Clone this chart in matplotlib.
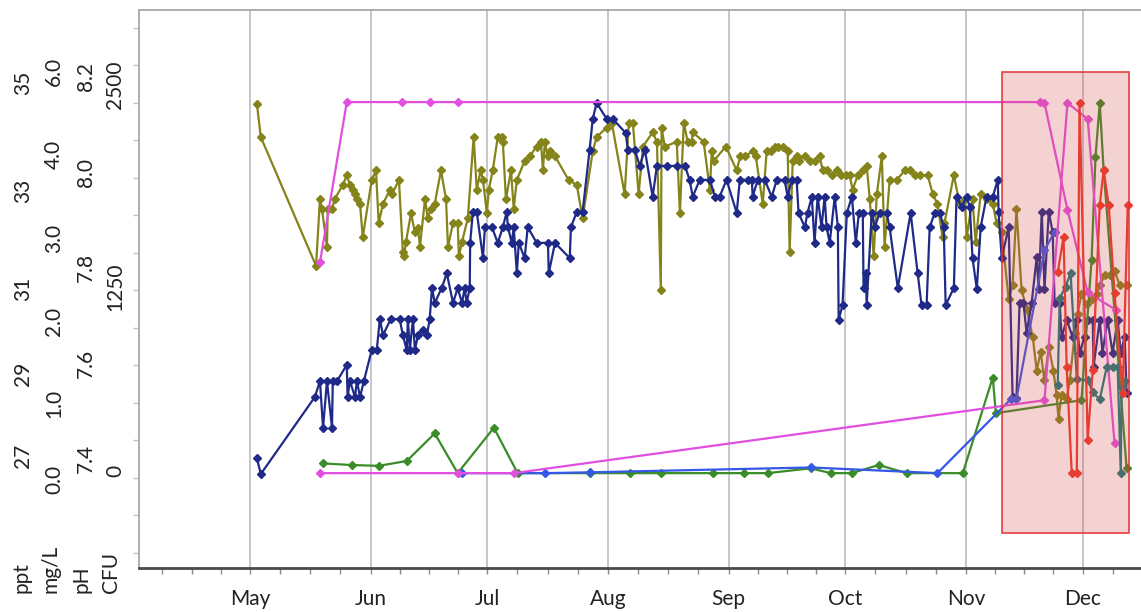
import numpy as np
import matplotlib
matplotlib.use("Agg")
import matplotlib.pyplot as plt
import matplotlib.transforms as mtransforms
from matplotlib.patches import Rectangle
from matplotlib.ticker import FixedLocator, NullLocator

plt.rcParams["font.family"] = ["Lato", "DejaVu Sans"]

# ---------------------------------------------------------------- x axis (day of year)
month_names = ["May", "Jun", "Jul", "Aug", "Sep", "Oct", "Nov", "Dec"]
month_start = [121, 152, 182, 213, 244, 274, 305, 335]

# ---------------------------------------------------------------- left-hand value axes
ppt_ticks = [27, 29, 31, 33, 35]
ppt_labels = ["27", "29", "31", "33", "35"]
mgl_ticks = [0.0, 1.0, 2.0, 3.0, 4.0, 6.0]
mgl_labels = ["0.0", "1.0", "2.0", "3.0", "4.0", "6.0"]
ph_ticks = [7.4, 7.6, 7.8, 8.0, 8.2]
ph_labels = ["7.4", "7.6", "7.8", "8.0", "8.2"]
cfu_ticks = [0, 1250, 2500]
cfu_labels = ["0", "1250", "2500"]

# ---------------------------------------------------------------- salinity (ppt)
salinity_day = [
    122.8, 123.8, 137.7, 139.0, 139.8, 140.8, 142.1, 142.3, 143.4, 145.9,
    146.1, 146.7, 148.0, 148.5, 149.3, 150.3, 152.3, 153.6, 154.4, 155.2,
    157.2, 159.5, 160.3, 161.3, 161.6, 162.1, 162.9, 163.4, 164.2, 165.4,
    166.5, 167.2, 167.8, 168.5, 170.3, 171.6, 173.2, 174.4, 175.5, 176.2,
    176.7, 177.5, 177.6, 178.3, 179.3, 180.9, 181.4, 183.2, 184.7, 186.0,
    187.0, 187.3, 188.3, 188.8, 189.6, 190.1, 191.6, 192.4, 194.7, 197.6,
    197.8, 199.4, 203.2, 203.5, 205.0, 206.5, 208.3, 209.1, 210.1, 212.7,
    214.3, 217.6, 218.1, 219.9, 221.2, 222.5, 224.5, 225.6, 228.1, 230.7,
    232.8, 234.0, 234.8, 236.6, 239.2, 240.5, 241.7, 243.5, 246.1, 246.9,
    248.9, 250.0, 250.2, 251.5, 253.3, 255.1, 256.4, 258.4, 259.2, 260.2,
    261.5, 262.0, 263.6, 264.3, 265.4, 266.1, 266.9, 267.9, 268.7, 269.2,
    270.0, 271.3, 272.1, 272.3, 273.3, 274.4, 275.7, 276.7, 277.5, 278.5,
    278.7, 279.3, 279.5, 280.8, 281.6, 282.8, 284.6, 285.4, 287.5, 290.8,
    292.6, 293.6, 294.9, 295.7, 297.0, 298.3, 299.3, 299.8, 301.9, 302.6,
    303.9, 305.2, 306.0, 306.7, 307.8, 308.8, 310.3, 311.9, 313.2, 313.4,
    314.2, 316.0, 317.0, 318.0, 318.8, 319.8, 320.6, 321.9, 323.2, 323.7,
    324.5, 325.2, 326.3, 327.3, 327.8, 329.1, 329.6, 330.9, 332.4, 333.5,
    334.2, 335.5, 336.3, 337.6, 337.8, 339.4, 340.1, 341.4, 342.7, 344.0,
    344.8, 345.8, 346.3,
]
salinity_ppt = [
    26.85, 26.46, 28.34, 28.73, 27.59, 28.73, 27.59, 28.73, 28.73, 29.12,
    28.34, 28.73, 28.34, 28.73, 28.34, 28.73, 29.47, 29.47, 30.20, 29.82,
    30.20, 30.20, 29.82, 29.47, 30.20, 29.47, 30.20, 29.47, 29.82, 29.94,
    29.82, 30.20, 30.93, 30.58, 30.93, 31.24, 30.58, 30.93, 30.58, 30.93,
    30.58, 30.93, 31.86, 32.49, 32.49, 31.55, 32.18, 32.18, 31.86, 32.18,
    32.49, 32.18, 31.86, 32.18, 31.24, 31.86, 31.55, 32.18, 31.86, 31.86,
    31.24, 31.86, 31.55, 32.18, 32.49, 32.49, 33.69, 34.26, 34.56, 34.26,
    34.26, 34.00, 33.69, 33.69, 33.39, 33.69, 32.80, 33.39, 33.39, 33.39,
    33.39, 33.13, 32.80, 33.13, 33.13, 32.80, 32.80, 33.13, 32.47, 33.13,
    33.13, 33.13, 32.80, 33.13, 33.13, 32.80, 33.13, 33.13, 32.80, 33.13,
    33.13, 32.47, 32.18, 32.47, 32.80, 31.86, 32.80, 32.18, 32.80, 32.18,
    31.86, 32.80, 32.18, 30.18, 30.53, 32.47, 32.80, 31.86, 32.47, 32.47,
    30.93, 31.24, 30.53, 32.47, 32.18, 32.47, 32.47, 32.18, 30.93, 32.47,
    31.24, 30.53, 30.53, 32.18, 32.47, 32.47, 32.18, 30.53, 30.93, 32.80,
    32.59, 32.80, 32.59, 31.55, 30.91, 32.18, 32.80, 32.80, 33.13, 32.49,
    31.55, 32.18, 28.34, 28.32, 30.58, 30.58, 29.87, 30.58, 31.57, 30.90,
    32.49, 30.91, 32.49, 32.08, 30.58, 30.58, 29.78, 30.18, 29.78, 30.18,
    29.40, 29.78, 30.18, 30.18, 29.07, 30.18, 29.40, 30.18, 29.40, 30.18,
    29.40, 29.78, 28.44,
]

# ---------------------------------------------------------------- pH
ph_day = [
    122.8, 123.8, 138.0, 139.0, 139.5, 140.8, 141.0, 142.1, 142.8, 144.9,
    145.9, 146.7, 147.5, 148.0, 148.5, 149.3, 150.0, 152.3, 153.4, 154.1,
    155.2, 157.0, 157.5, 159.3, 160.3, 160.6, 161.1, 162.4, 163.4, 164.2,
    164.7, 166.0, 166.7, 167.5, 168.5, 170.1, 171.4, 171.9, 173.2, 174.4,
    174.7, 175.5, 177.0, 178.5, 179.3, 180.3, 180.9, 181.9, 182.4, 183.4,
    184.7, 185.7, 186.0, 186.8, 188.1, 188.8, 189.6, 191.6, 192.9, 194.7,
    195.8, 196.3, 196.8, 197.5, 198.1, 199.4, 202.9, 205.0, 206.5, 209.1,
    210.1, 212.7, 214.0, 217.3, 218.4, 219.4, 220.9, 222.0, 224.5, 225.6,
    226.6, 226.8, 227.6, 230.7, 231.5, 232.5, 233.5, 234.5, 234.8, 237.6,
    239.2, 239.7, 240.2, 243.3, 246.1, 247.0, 248.2, 250.2, 251.0, 252.8,
    253.8, 255.0, 255.9, 256.6, 257.9, 259.2, 259.7, 260.5, 261.5, 262.0,
    263.6, 264.9, 266.1, 267.4, 268.2, 269.2, 270.5, 271.8, 272.8, 274.1,
    275.1, 275.9, 277.2, 278.5, 279.5, 280.3, 281.3, 282.1, 283.4, 284.1,
    285.4, 287.2, 289.3, 290.6, 291.8, 293.1, 295.2, 296.5, 297.7, 299.0,
    299.5, 301.9, 303.4, 304.7, 305.2, 306.7, 307.5, 308.8, 310.3, 311.9,
    312.9, 314.2, 316.0, 317.0, 318.0, 319.3, 320.6, 322.2, 323.2, 324.2,
    325.2, 326.3, 327.5, 328.3, 328.8, 329.6, 330.9, 331.7, 333.0, 333.7,
    334.7, 336.0, 337.3, 338.6, 339.4, 340.7, 342.0, 343.2, 344.5, 346.3,
]
ph_value = [
    8.13, 8.06, 7.79, 7.93, 7.91, 7.83, 7.91, 7.91, 7.93, 7.96,
    7.98, 7.96, 7.95, 7.94, 7.93, 7.92, 7.85, 7.97, 7.99, 7.88,
    7.92, 7.95, 7.94, 7.97, 7.82, 7.81, 7.84, 7.90, 7.86, 7.87,
    7.83, 7.93, 7.89, 7.91, 7.92, 7.99, 7.93, 7.83, 7.88, 7.88,
    7.81, 7.84, 7.89, 8.06, 7.95, 7.99, 7.97, 7.90, 7.95, 7.99,
    8.06, 8.06, 8.05, 7.93, 7.99, 7.91, 7.97, 8.01, 8.02, 8.04,
    8.05, 7.99, 8.05, 8.02, 8.03, 8.02, 7.97, 7.96, 7.89, 8.03,
    8.06, 8.08, 8.09, 7.94, 8.09, 8.09, 7.94, 8.04, 8.07, 8.05,
    7.74, 8.08, 8.04, 8.05, 7.90, 8.09, 8.05, 8.05, 8.07, 8.05,
    7.95, 8.03, 8.01, 8.04, 7.99, 8.02, 8.02, 8.03, 8.02, 7.92,
    8.03, 8.03, 8.04, 8.04, 8.04, 8.03, 7.82, 8.01, 8.02, 8.01,
    8.02, 8.01, 8.01, 8.02, 7.99, 7.99, 7.98, 7.99, 7.98, 7.98,
    7.98, 7.95, 7.98, 7.99, 8.00, 7.93, 7.81, 7.94, 8.02, 7.83,
    7.97, 7.97, 7.99, 7.99, 7.98, 7.98, 7.98, 7.94, 7.92, 7.85,
    7.88, 7.98, 7.92, 7.93, 7.85, 7.93, 7.84, 7.94, 7.93, 7.92,
    7.88, 7.86, 7.72, 7.75, 7.91, 7.74, 7.70, 7.64, 7.57, 7.61,
    7.55, 7.62, 7.57, 7.52, 7.47, 7.52, 7.51, 7.55, 7.65, 7.69,
    7.73, 7.71, 7.72, 7.73, 7.75, 7.77, 7.77, 7.78, 7.75, 7.75,
]

# ---------------------------------------------------------------- bacterial counts (CFU)
green_day = [139.8, 147.2, 154.1, 161.3, 168.5, 174.4, 183.7, 189.8, 208.3, 218.6,
             226.6, 239.9, 247.9, 254.1, 265.1, 270.3, 275.7, 282.6, 289.8, 304.2,
             311.9, 312.7, 334.7, 337.3, 338.3, 339.4, 340.4, 346.3]
green_cfu = [60, 50, 45, 75, 245, 0, 280, 0, 0, 0,
             0, 0, 0, 0, 30, 0, 0, 50, 0, 0,
             590, 370, 450, 1315, 1950, 2285, 1870, 30]

blue_day = [175.5, 196.8, 208.3, 265.1, 297.7, 316.7, 318.0, 325.2, 327.8]
blue_cfu = [0, 0, 5, 35, 0, 460, 460, 1375, 1490]

pink_low_day = [139.0, 174.4, 188.8, 325.2, 331.1, 336.3, 343.2]
pink_low_cfu = [0, 0, 0, 450, 2285, 2185, 185]

pink_high_day = [139.0, 145.9, 160.0, 167.2, 174.4, 324.0, 325.2, 331.1, 336.3, 343.7]
pink_high_cfu = [1300, 2290, 2290, 2290, 2290, 2290, 2285, 1625, 1115, 1005]

red_day = [328.6, 330.1, 330.9, 332.2, 333.5, 334.2, 336.3, 337.6, 339.4, 340.4,
           341.7, 343.2, 345.3, 346.6]
red_cfu = [1240, 1457, 654, 0, 0, 2285, 205, 636, 1654, 1870,
           1654, 1111, 494, 1654]

teal_day = [328.6, 329.1, 330.6, 331.9, 333.5, 336.3, 337.6, 339.4, 341.2, 342.7,
            344.0, 344.8, 345.0, 345.8]
teal_cfu = [543, 1080, 1150, 1235, 580, 575, 500, 455, 655, 655,
            655, 0, 530, 570]

# highlighted period
highlight_start, highlight_end = 314.4, 347.0

# ---------------------------------------------------------------- figure
fig = plt.figure(figsize=(11.41, 6.12), dpi=100)
ax = fig.add_axes([139 / 1141, 44 / 612, 1 - 139 / 1141, 558 / 612])
ax.set_xlim(92.5, 350.0)
ax.set_ylim(0, 1)

for d in month_start:
    ax.axvline(d, color="#c6c6c6", lw=1.4, zorder=0)

ax.set_xticks(month_start, month_names)
quarter = []
for a, b in zip([91] + month_start, month_start + [366]):
    quarter += list(np.linspace(a, b, 5)[1:-1])
ax.xaxis.set_minor_locator(FixedLocator(quarter))
ax.tick_params(axis="x", which="both", length=4, width=1, color="#8a8a8a",
               pad=11, labelsize=15, labelcolor="#222222")
ax.yaxis.set_major_locator(FixedLocator(np.arange(0.027, 1.0, 0.0672)))
ax.tick_params(axis="y", which="major", length=4, width=1, color="#c2c2c2",
               labelleft=False)

for side in ("left", "top"):
    ax.spines[side].set_color("#a8a8a8")
    ax.spines[side].set_linewidth(1.3)
ax.spines["bottom"].set_color("#4a4a4a")
ax.spines["bottom"].set_linewidth(2.0)
ax.spines["right"].set_visible(False)


def piecewise_scale(ticks, fracs):
    v = np.asarray(ticks, float)
    f = np.asarray(fracs, float)
    lo = v[0] - f[0] * (v[1] - v[0]) / (f[1] - f[0])
    hi = v[-1] + (1 - f[-1]) * (v[-1] - v[-2]) / (f[-1] - f[-2])
    V = np.r_[lo, v, hi]
    F = np.r_[0.0, f, 1.0]

    def fwd(x):
        return np.interp(x, V, F)

    def inv(q):
        return np.interp(q, F, V)

    return fwd, inv, lo, hi


def value_axis(ticks, labels, fracs, pad, name, name_x):
    tw = ax.twinx()
    fwd, inv, lo, hi = piecewise_scale(ticks, fracs)
    tw.set_yscale("function", functions=(fwd, inv))
    tw.set_ylim(lo, hi)
    tw.set_yticks(ticks, labels)
    tw.yaxis.set_minor_locator(NullLocator())
    tw.yaxis.set_ticks_position("left")
    tw.yaxis.set_label_position("left")
    tw.tick_params(axis="y", length=0, pad=pad, labelrotation=90,
                   labelsize=15, labelcolor="#222222")
    for s in tw.spines.values():
        s.set_visible(False)
    tw.patch.set_visible(False)
    tw.set_ylabel(name, rotation=90, ha="left", va="center",
                  rotation_mode="anchor", fontsize=15, color="#222222")
    tw.yaxis.set_label_coords(name_x, -0.045)
    return tw


ax_ph = value_axis(ph_ticks, ph_labels, [0.208, 0.379, 0.550, 0.721, 0.892],
                   31, "pH", -0.057)
ax_mgl = value_axis(mgl_ticks, mgl_labels, [0.170, 0.306, 0.453, 0.602, 0.753, 0.901],
                    54, "mg/L", -0.088)
ax_ppt = value_axis(ppt_ticks, ppt_labels, [0.208, 0.355, 0.507, 0.683, 0.876],
                    76, "ppt", -0.117)
ax_cfu = value_axis(cfu_ticks, cfu_labels, [0.170, 0.533, 0.896],
                    10, "CFU", -0.028)

style = dict(marker="D", markersize=4.0, lw=1.6)
ax_ph.plot(ph_day, ph_value, color="#84841a", **style)
ax_ppt.plot(salinity_day, salinity_ppt, color="#1f2a88", **style)
ax_cfu.plot(green_day, green_cfu, color="#3a8c28", **style)
ax_cfu.plot(blue_day, blue_cfu, color="#3558e6", **style)
ax_cfu.plot(pink_low_day, pink_low_cfu, color="#e24fe0", **style)
ax_cfu.plot(pink_high_day, pink_high_cfu, color="#e24fe0", **style)
ax_cfu.plot(teal_day, teal_cfu, color="#1a7a7a", **style)
ax_cfu.plot(red_day, red_cfu, color="#eb3729", **style)

box = Rectangle((highlight_start, 0.063), highlight_end - highlight_start, 0.826,
                transform=mtransforms.blended_transform_factory(ax_cfu.transData,
                                                                ax_cfu.transAxes),
                facecolor=(0.85, 0.30, 0.30, 0.25),
                edgecolor=(0.88, 0.20, 0.20, 0.85), lw=1.3, zorder=10)
ax_cfu.add_patch(box)

fig.savefig("out.png", dpi=100)
